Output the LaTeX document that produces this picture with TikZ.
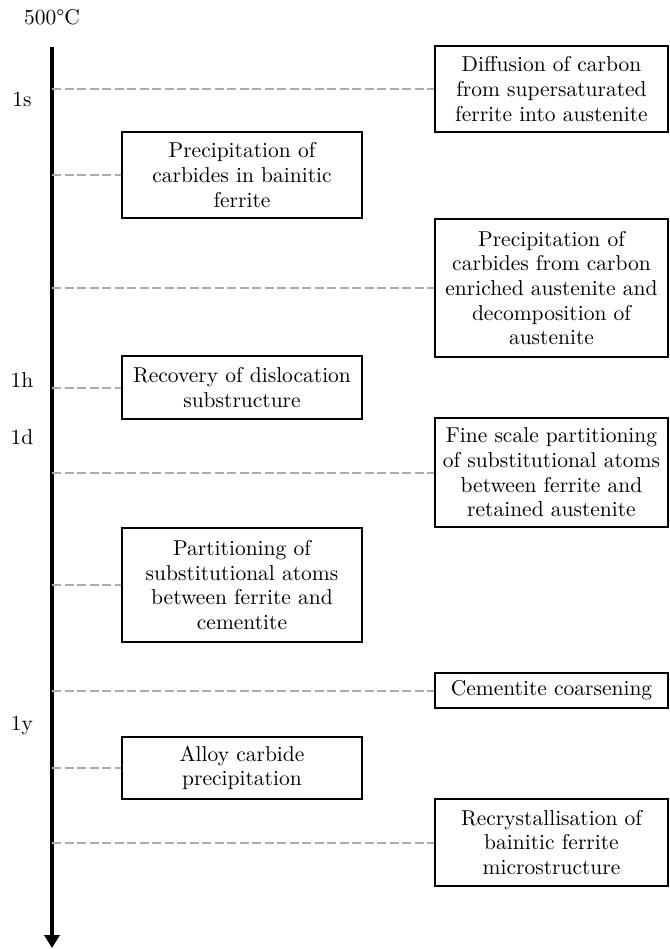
\documentclass[tikz,border=0pt]{standalone}
\usetikzlibrary{arrows.meta}
\font\evtfont="[lmroman10-regular.otf]" at 21.5pt
\begin{document}
\begin{tikzpicture}[x=1pt,y=-1pt,
  evt/.style={draw=black, line width=1.6pt, align=center, inner sep=0pt, font={\evtfont\baselineskip=24.7pt}},
  lbox/.style={evt, minimum width=240pt},
  rbox/.style={evt, minimum width=233pt},
  tick/.style={draw=black!33, line width=2pt, dash pattern=on 9pt off 3.5pt},
  lbl/.style={font=\evtfont, inner sep=0pt},
  axisline/.style={line width=3.5pt, -{Triangle[width=15pt,length=13pt]}}]
\fill[white] (0,0) rectangle (669,949);
\useasboundingbox (0,0) rectangle (669,949);

\coordinate (top) at (52,47);
\coordinate (bot) at (52,948);
\draw[axisline] (top) -- (bot);

\node[lbl] (temp) at (52,17) {500°C};
\node[lbl] (ls) at (22,99) {1s};
\node[lbl] (lh) at (22,380) {1h};
\node[lbl] (ld) at (22,437) {1d};
\node[lbl] (ly) at (22,726) {1y};

\node[rbox, minimum height=86pt] (b1) at (551.5,89) {Diffusion of carbon\\from supersaturated\\ferrite into austenite};
\node[lbox, minimum height=86pt] (b2) at (242,175) {Precipitation of\\carbides in bainitic\\ferrite};
\node[rbox, minimum height=138pt] (b3) at (551.5,288) {Precipitation of\\carbides from carbon\\enriched austenite and\\decomposition of\\austenite};
\node[lbox, minimum height=63pt] (b4) at (242,387.5) {Recovery of dislocation\\substructure};
\node[rbox, minimum height=109pt] (b5) at (551.5,472.5) {Fine scale partitioning\\of substitutional atoms\\between ferrite and\\retained austenite};
\node[lbox, minimum height=114pt] (b6) at (242,585) {Partitioning of\\substitutional atoms\\between ferrite and\\cementite};
\node[rbox, minimum height=35pt] (b7) at (551.5,690.5) {Cementite coarsening};
\node[lbox, minimum height=62pt] (b8) at (242,768) {Alloy carbide\\precipitation};
\node[rbox, minimum height=87pt] (b9) at (551.5,842.5) {Recrystallisation of\\bainitic ferrite\\microstructure};

\foreach \b in {b1,b2,b3,b4,b5,b6,b7,b8,b9}
  \draw[tick] (top |- \b.west) -- (\b.west);
\end{tikzpicture}
\end{document}
